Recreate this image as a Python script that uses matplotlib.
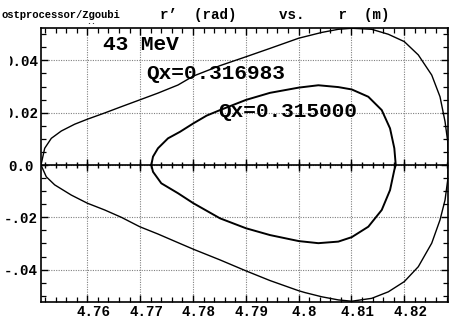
import matplotlib
matplotlib.use("Agg")
import matplotlib.pyplot as plt
from matplotlib.transforms import Bbox, TransformedBbox, ScaledTranslation
import numpy as np

# ---- data ----
outer_r = [4.75124, 4.75194, 4.75319, 4.75508, 4.75761, 4.76000, 4.76329, 4.76644,
           4.76992, 4.77338, 4.77717, 4.78006, 4.78512, 4.79004, 4.79458, 4.80002,
           4.80437, 4.80751, 4.81005, 4.81383, 4.81698, 4.82000, 4.82265, 4.82519,
           4.82676, 4.82771, 4.82822, 4.82830,
           4.82822, 4.82771, 4.82676, 4.82519, 4.82265, 4.82000, 4.81698, 4.81383,
           4.81005, 4.80751, 4.80437, 4.80121, 4.80002, 4.79458, 4.79004, 4.78512,
           4.78006, 4.77717, 4.77338, 4.76992, 4.76644, 4.76329, 4.76000, 4.75697,
           4.75383, 4.75224, 4.75124]
outer_rp = [0.0, 0.0064, 0.0102, 0.0130, 0.0156, 0.0175, 0.0199, 0.0223,
            0.0249, 0.0275, 0.0306, 0.0340, 0.0380, 0.0414, 0.0446, 0.0485,
            0.0507, 0.0519, 0.0523, 0.0519, 0.0500, 0.0472, 0.0421, 0.0344,
            0.0261, 0.0166, 0.0089, 0.0,
            -0.0057, -0.0134, -0.0210, -0.0299, -0.0389, -0.0446, -0.0485, -0.0510,
            -0.0521, -0.0516, -0.0504, -0.0488, -0.0481, -0.0442, -0.0405, -0.0363,
            -0.0322, -0.0297, -0.0264, -0.0236, -0.0200, -0.0172, -0.0146, -0.0115,
            -0.0076, -0.0045, 0.0]

inner_r = [4.77211, 4.77244, 4.77338, 4.77528, 4.77755, 4.78006, 4.78260, 4.78512,
           4.79004, 4.79458, 4.80002, 4.80373, 4.80751, 4.81005, 4.81319, 4.81573,
           4.81730, 4.81811, 4.81838,
           4.81811, 4.81730, 4.81573, 4.81319, 4.81005, 4.80751, 4.80373, 4.80002,
           4.79458, 4.79004, 4.78512, 4.78006, 4.77717, 4.77401, 4.77244, 4.77211]
inner_rp = [0.0, 0.0032, 0.0064, 0.0102, 0.0127, 0.0159, 0.0189, 0.0210,
            0.0249, 0.0276, 0.0296, 0.0305, 0.0298, 0.0289, 0.0261, 0.0210,
            0.0140, 0.0064, 0.0,
            -0.0019, -0.0096, -0.0172, -0.0236, -0.0276, -0.0293, -0.0299, -0.0291,
            -0.0268, -0.0242, -0.0204, -0.0146, -0.0108, -0.0070, -0.0026, 0.0]

xticks = [4.76, 4.77, 4.78, 4.79, 4.80, 4.81, 4.82]
xticklabels = ["4.76", "4.77", "4.78", "4.79", "4.8", "4.81", "4.82"]
yticks = [-0.04, -0.02, 0.0, 0.02, 0.04]
yticklabels = ["-.04", "-.02", "0.0", "0.02", "0.04"]

title = "r\u2019  (rad)     vs.    r  (m)"
label_hi = "Qx=0.316983"
label_lo = "Qx=0.315000"
energy = "43 MeV"
header = "ostprocessor/Zgoubi"

FONT = "Liberation Mono"
W, H = 450, 318
fig = plt.figure(figsize=(W / 100, H / 100), dpi=100)
ax = fig.add_axes([41 / W, 16 / H, 407 / W, 274 / H])

ax.plot(outer_r, outer_rp, color="black", lw=1.0, solid_joinstyle="round")
ax.plot(inner_r, inner_rp, color="black", lw=1.4, solid_joinstyle="round")

ax.set_xlim(4.75124, 4.82827)
ax.set_ylim(-0.0524, 0.0524)

# zero axis with tick marks
ax.axhline(0, color="black", lw=1.2, zorder=3)
xminor = np.round(np.arange(4.752, 4.8283, 0.002), 3)
ax.plot(xminor, np.zeros_like(xminor), ls="none", marker="|", ms=5, mew=1.0, color="black", zorder=3)
ax.plot(xticks, np.zeros(len(xticks)), ls="none", marker="|", ms=8, mew=1.0, color="black", zorder=3)

ax.set_xticks(xticks)
ax.set_xticklabels(xticklabels)
ax.set_yticks(yticks)
ax.set_yticklabels(yticklabels)
ax.set_xticks(xminor, minor=True)
ax.set_yticks(np.round(np.arange(-0.05, 0.0501, 0.005), 3), minor=True)

ax.tick_params(which="both", direction="in", top=True, right=True, color="black")
ax.tick_params(which="major", length=5, width=1.0)
ax.tick_params(which="minor", length=3.5, width=0.9)
ax.tick_params(axis="x", which="major", pad=2.5)
ax.tick_params(axis="y", which="major", pad=2.0)

ax.grid(True, which="major", ls=(0, (1, 1.2)), color="#808080", lw=0.8)
for s in ax.spines.values():
    s.set_linewidth(1.2)
    s.set_color("black")

clip = TransformedBbox(Bbox.from_extents(9.5 / W, 0, 1, 1), fig.transFigure)
for t in ax.get_yticklabels():
    t.set_fontfamily(FONT)
    t.set_fontweight("bold")
    t.set_fontsize(10.2)
    if t.get_text().startswith("0.0") and len(t.get_text()) == 4:
        t.set_clip_box(clip)
        t.set_clip_on(True)
    if t.get_text() == "0.0":
        t.set_transform(t.get_transform() + ScaledTranslation(-4.5 / 100, 0, fig.dpi_scale_trans))
shift = ScaledTranslation(6 / 100, 0, fig.dpi_scale_trans)
for t in ax.get_xticklabels():
    t.set_fontfamily(FONT)
    t.set_fontweight("bold")
    t.set_fontsize(10.2)
    t.set_transform(t.get_transform() + shift)

fig.text(160 / W, 1 - 14.5 / H, title, ha="left", va="center",
         family=FONT, weight="bold", fontsize=10.2)
fig.text(1 / W, 1 - 14.5 / H, header, ha="left", va="center",
         family=FONT, weight="bold", fontsize=7.6)
fig.text(86 / W, 1 - 23 / H, "..", ha="left", va="center",
         family=FONT, weight="bold", fontsize=6)

fig.text(103 / W, 1 - 44 / H, energy, ha="left", va="center",
         family=FONT, weight="bold", fontsize=15.2)
fig.text(146 / W, 1 - 74 / H, label_hi, ha="left", va="center",
         family=FONT, weight="bold", fontsize=15.2)
fig.text(218 / W, 1 - 111.5 / H, label_lo, ha="left", va="center",
         family=FONT, weight="bold", fontsize=15.2)

fig.savefig("out.png", dpi=100)
